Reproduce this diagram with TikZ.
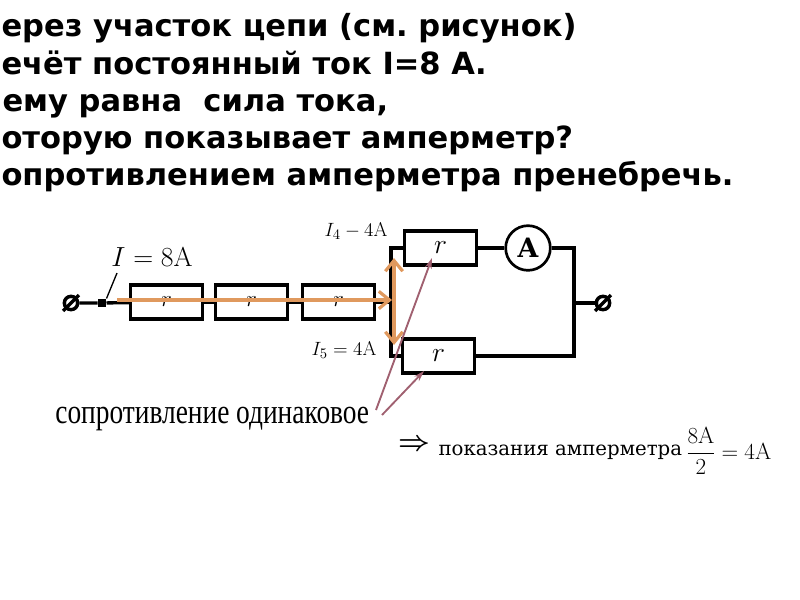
\documentclass[tikz,border=0pt]{standalone}
\usepackage{fontspec}
\setmainfont{DejaVu Sans}
\setmathrm{Latin Modern Roman}
\newfontfamily\serifcyr{Liberation Serif}
\newfontfamily\serifnote{DejaVu Serif}
\usetikzlibrary{arrows.meta,calc}

\tikzset{every picture/.style={line width=0.75pt}}
\tikzset{
	headline/.style={anchor=base west,inner sep=0pt,font=\fontsize{22.9}{26}\selectfont\bfseries\frenchspacing},
	resbox/.style={draw,line width=2.5pt,minimum width=54pt,minimum height=25.5pt,inner sep=0pt,font=\fontsize{16}{18}\selectfont},
	wire/.style={line width=2.5pt},
	clamp/.style={circle,draw,line width=2.6pt,minimum size=10pt,inner sep=0pt},
	flow/.style={line width=3.4pt,draw={rgb,255:red,224;green,153;blue,94},-{Straight Barb[length=8pt,width=13pt,line width=2.4pt]}},
	pointer/.style={line width=1.4pt,draw={rgb,255:red,160;green,96;blue,112},-{Stealth[length=8pt,width=5pt]}},
	mathlabel/.style={inner sep=0pt,font=\fontsize{15}{17}\selectfont},
}

\begin{document}
\begin{tikzpicture}[x=0.75pt,y=0.75pt,yscale=-1,xscale=1]
	\clip (0,0) rectangle (800,600);

	% Text Node
	\node[headline] (line1) at (1,36) {ерез участок цепи (см. рисунок)};
	\node[headline] (line2) at (1,74) {ечёт постоянный ток I=8 А.};
	\node[headline] (line3) at (2,111) {ему равна\ \ сила тока,};
	\node[headline] (line4) at (1,148) {оторую показывает амперметр?};
	\node[headline] (line5) at (1,185) {опротивлением амперметра пренебречь.};

	% Resistors
	\node[resbox] (resA) at (166.5,302) {$r$};
	\node[resbox] (resB) at (251.5,302) {$r$};
	\node[resbox] (resC) at (338.5,302) {$r$};
	\node[resbox,font=\fontsize{20}{22}\selectfont] (resUp) at (440.5,248) {$r$};
	\node[resbox,font=\fontsize{20}{22}\selectfont] (resDown) at (438.5,356) {$r$};
	\node[circle,draw,line width=2pt,minimum size=33.5pt,inner sep=0pt,font=\fontsize{20}{22}\selectfont\serifnote\bfseries] (amm) at (528,248) {A};

	% Clamps
	\node[clamp] (clampL) at (71,303) {};
	\node[clamp] (clampR) at (603,303) {};
	\draw[wire] ($(clampL.225)+(-2,2)$) -- ($(clampL.45)+(2,-2)$);
	\draw[wire] ($(clampR.225)+(-2,2)$) -- ($(clampR.45)+(2,-2)$);

	\coordinate (busUp) at (391,248);
	\coordinate (busMid) at (391,302);
	\coordinate (busDown) at (391,356);
	\coordinate (railUp) at (574,248);
	\coordinate (railMid) at (574,303);
	\coordinate (railDown) at (574,356);
	\node[fill,minimum size=6pt,inner sep=0pt] (tap) at (102,303) {};

	% Wires
	\draw[wire] (clampL) -- (tap) -- (resA);
	\draw[wire] (resA) -- (resB);
	\draw[wire] (resB) -- (resC);
	\draw[wire] (resC) -- (busMid);
	\draw[wire] (resUp.west) -- (busUp) -- (busDown) -- (resDown.west);
	\draw[wire] (resUp) -- (amm);
	\draw[wire] (amm) -- (railUp) -- (railDown) -- (resDown);
	\draw[wire] (railMid) -- (clampR);

	% Current label
	\node[mathlabel,font=\fontsize{20.5}{23}\selectfont] (total) at (152,257) {$I=8\mathrm{A}$};
	\coordinate (totalfoot) at (117,273);
	\draw[line width=1pt] (totalfoot) -- (tap.north east);
	\node[mathlabel] (upper) at (356,231) {$I_4-4\mathrm{A}$};
	\node[mathlabel] (lower) at (344,350) {$I_5=4\mathrm{A}$};

	% Flow arrows
	\coordinate (flowstart) at (117,300);
	\coordinate (flowend) at (392,300);
	\coordinate (flowmid) at (394,300);
	\coordinate (flowup) at (394,258);
	\coordinate (flowdown) at (394,345);
	\draw[flow] (flowstart) -- (flowend);
	\draw[flow] (flowmid) -- (flowup);
	\draw[flow] (flowmid) -- (flowdown);

	% Note
	\node[inner sep=0pt,anchor=base west,xscale=0.79,font=\fontsize{26}{28}\selectfont\serifcyr] (same) at (55,423) {сопротивление одинаковое};
	\coordinate (sameA) at (376,410);
	\coordinate (sameB) at (382,415);
	\coordinate (tipA) at (432,258);
	\coordinate (tipB) at (424,371);
	\draw[pointer] (sameA) -- (tipA);
	\draw[pointer] (sameB) -- (tipB);

	% Result
	\node[inner sep=0pt,font=\fontsize{22}{24}\selectfont\boldmath] (then) at (414,445) {$\Rightarrow$};
	\node[inner sep=0pt,anchor=base west,font=\fontsize{14.8}{17}\selectfont\serifnote] (reading) at (438,455) {показания амперметра};
	\node[inner sep=0pt,font=\fontsize{17.5}{19}\selectfont] (frac) at (701,451) {$\displaystyle\frac{8\mathrm{A}}{2}$};
	\node[inner sep=0pt,anchor=base west,font=\fontsize{17.5}{19}\selectfont] (answer) at (721,459) {$=4\mathrm{A}$};
\end{tikzpicture}
\end{document}
